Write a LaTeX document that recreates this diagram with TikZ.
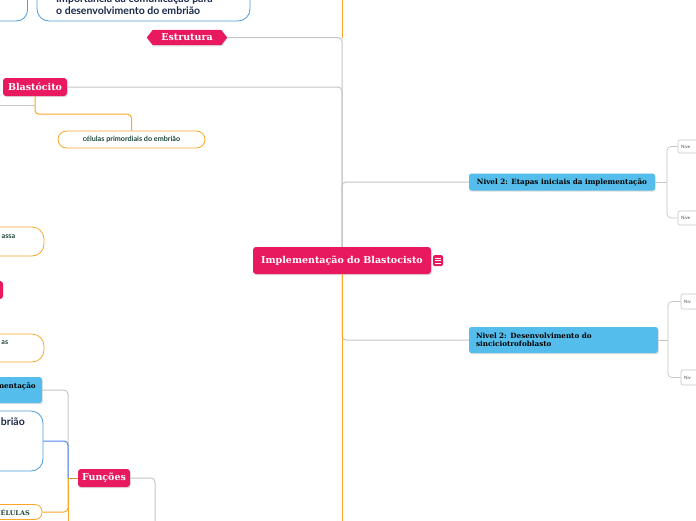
\documentclass[tikz,border=0pt]{standalone}
\usepackage{fontspec}
\setmainfont{DejaVu Serif}
\newfontfamily\sansf{Lato}
\usetikzlibrary{calc}
\definecolor{pk}{HTML}{E8195F}
\definecolor{bl}{HTML}{55BDEB}
\definecolor{blo}{HTML}{4A9CDB}
\definecolor{bll}{HTML}{4F86EE}
\definecolor{orl}{HTML}{F9A72B}
\definecolor{orb}{HTML}{D9922F}
\definecolor{gr}{HTML}{C6C6C6}
\definecolor{navy}{HTML}{1B2A4A}
\definecolor{dgreen}{HTML}{1E4636}
\definecolor{shd}{HTML}{C8C8C8}
\tikzset{
  pinkbox/.style={fill=pk, rounded corners=3pt, text=white, inner sep=0pt,
    font=\bfseries\fontsize{9.5}{11}\selectfont},
  bluebox/.style={fill=bl, rounded corners=2.5pt, text=black, inner sep=0pt,
    font=\bfseries\fontsize{7.2}{8.5}\selectfont},
  orbox/.style={draw=orl, line width=0.8pt, fill=white, inner sep=0pt},
  boline/.style={draw=blo, line width=0.8pt, fill=white, inner sep=0pt},
  smallbox/.style={draw=gr, line width=0.6pt, fill=white, rounded corners=2pt, inner sep=0pt},
  conn/.style={draw=gr, line width=1pt, rounded corners=4pt},
  orc/.style={draw=orl, line width=1pt, rounded corners=4pt},
  blc/.style={draw=bll, line width=1pt, rounded corners=4pt},
  shadowed/.style={preaction={fill=shd, opacity=0.6, transform canvas={xshift=0.6pt, yshift=-1.2pt}}},
  sanslbl/.style={font=\sansf\bfseries\fontsize{10.5}{12}\selectfont, text=navy, inner sep=0pt},
  grlbl/.style={font=\sansf\bfseries\fontsize{7.2}{8}\selectfont, text=dgreen, inner sep=0pt},
  tinylbl/.style={font=\sansf\fontsize{4.5}{5}\selectfont, text=black!70, inner sep=0pt}
}
\begin{document}
\begin{tikzpicture}[x=1pt,y=-1pt]
\useasboundingbox (0,0) rectangle (696,520);
\fill[white] (0,0) rectangle (696,520);
\clip (0,0) rectangle (696,520);

% ---------- nodes ----------
% centre
\node[pinkbox, shadowed, minimum width=178, minimum height=27] (ctr) at (342,260.5) {Implementação do Blastocisto};
\node[fill=pk, rounded corners=1.5pt, minimum width=10, minimum height=11, inner sep=0pt] (icon) at (438,260.5) {};
\foreach \dy in {-2.5,0,2.5}
  \draw[white, line width=0.7pt] ($(icon.center)+(-2.8,\dy)$) -- ++(5.6,0);

% Estrutura (hexagon)
\node[minimum width=80, minimum height=15, inner sep=0pt] (estr) at (187,37.5) {};
\fill[pk, shadowed] (estr.west) -- ($(estr.north west)+(6,0)$) -- ($(estr.north east)+(-6,0)$) -- (estr.east) -- ($(estr.south east)+(-6,0)$) -- ($(estr.south west)+(6,0)$) -- cycle;
\node[text=white, font=\bfseries\fontsize{9.5}{11}\selectfont, inner sep=0pt] (estrt) at (estr.center) {Estrutura};

% Blastócito
\node[pinkbox, shadowed, minimum width=64, minimum height=18] (blast) at (35,87) {Blastócito};
\node[orbox, grlbl, rounded corners=8.5pt, minimum width=147, minimum height=17] (cel) at (131.5,139.5) {células primordiais do embrião};

% top-left boxes
\node[boline, rounded corners=11pt, minimum width=67, minimum height=41] (tl1) at (-6,0.5) {};
\node[boline, rounded corners=12pt, minimum width=213, minimum height=41] (tl2) at (143.5,0.5) {};
\node[sanslbl, anchor=west, align=left] (tl2t) at (56,5) {Importância da comunicação para\\o desenvolvimento do embrião};

% left boxes
\node[orbox, rounded corners=12pt, minimum width=74, minimum height=29] (l1) at (7,241.5) {};
\node[grlbl, anchor=east] (l1t) at (15.5,236.5) {assa};
\node[pinkbox, minimum width=33, minimum height=18] (l2) at (-13.5,290) {};
\node[orbox, rounded corners=12pt, minimum width=74, minimum height=28] (l3) at (7,348) {};
\node[grlbl, anchor=east] (l3t) at (8.5,343) {as};
\node[bluebox, shadowed, minimum width=82, minimum height=26] (ment) at (1,390) {};
\node[font=\bfseries\fontsize{7.2}{8}\selectfont, text=black, inner sep=0pt, anchor=east] (mentt) at (36,386) {mentação};
\node[boline, rounded corners=12pt, minimum width=83, minimum height=60] (brio) at (1.5,441) {};
\node[sanslbl, anchor=east] (briot) at (25,422) {brião};
\node[orbox, rounded corners=7pt, minimum width=82, minimum height=15] (celu) at (1,512) {};
\node[font=\bfseries\fontsize{6.5}{8}\selectfont, text=dgreen, inner sep=0pt, anchor=east] (celut) at (30,512.5) {CÉLULAS};

% Funções
\node[pinkbox, shadowed, minimum width=52, minimum height=18] (func) at (104,478) {Funções};

% right side
\node[bluebox, shadowed, minimum width=186, minimum height=17] (n2a) at (562,182) {Nivel 2: Etapas iniciais da implementação};
\node[bluebox, shadowed, text width=175, align=left, inner xsep=7pt, minimum height=26] (n2b) at (563.5,340) {Nivel 2: Desenvolvimento do\\sinciciotrofoblasto};
\node[smallbox, minimum width=24, minimum height=13] (s1) at (690,146.5) {};
\node[tinylbl, anchor=west] at (681,146.5) {Nive};
\node[smallbox, minimum width=24, minimum height=14] (s2) at (690,218) {};
\node[tinylbl, anchor=west] at (681,218) {Nive};
\node[smallbox, minimum width=24, minimum height=15] (s3) at (693,301.5) {};
\node[tinylbl, anchor=west] at (684,301.5) {Niv};
\node[smallbox, minimum width=24, minimum height=15] (s4) at (693,377.5) {};
\node[tinylbl, anchor=west] at (684,377.5) {Niv};

% ---------- connectors ----------
\coordinate (otop) at (342,-5);
\coordinate (obot) at (342,525);
\draw[orc] (otop) -- (ctr.north |- estr.east);
\draw[conn] (estr.east) -| (ctr.north);
\draw[conn] (blast.east) -| (ctr.north);
\draw[conn] (ctr.north) |- (n2a.west);
\draw[conn] (ctr.south) |- (n2b.west);
\draw[orc] (ctr.south) -- (obot);

\coordinate (ja) at (667,182);
\draw[conn, line width=0.7pt] (n2a.east) -- (ja);
\draw[conn, line width=0.7pt] (ja) |- (s1.west);
\draw[conn, line width=0.7pt] (ja) |- (s2.west);
\coordinate (jb) at (668,340);
\draw[conn, line width=0.7pt] (n2b.east) -- (jb);
\draw[conn, line width=0.7pt] (jb) |- (s3.west);
\draw[conn, line width=0.7pt] (jb) |- (s4.west);

\coordinate (gl) at (-5,105);
\draw[conn] (gl) -- (blast.south |- gl);
\draw[orc] (blast.south) -- ++(0,18) -| (cel.north);

\coordinate (fj) at (68,478);
\coordinate (fbot) at (68,525);
\coordinate (gbot) at (155,525);
\draw[conn] (ment.east) -| (fj);
\draw[blc] (brio.east) -| (fj);
\draw[orc] (celu.east) -| (fj);
\draw[orc] (fbot) -- (fj);
\draw[draw=orb, line width=1pt] (fj) -- (func.west);
\draw[conn] (func.east) -| (gbot);
\end{tikzpicture}
\end{document}
